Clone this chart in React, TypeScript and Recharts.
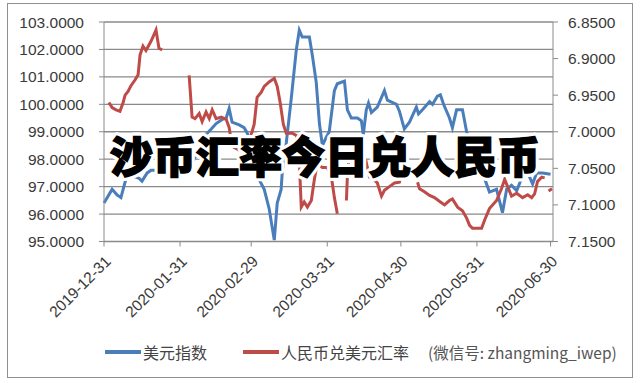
import { LineChart, Line, XAxis, YAxis, CartesianGrid } from "recharts";

// x positions are days counted from 2019-12-31
const tickDays = [0, 31, 60, 91, 121, 152, 182];
const tickLabels = ["2019-12-31", "2020-01-31", "2020-02-29", "2020-03-31", "2020-04-30", "2020-05-31", "2020-06-30"];
const leftTicks = [95, 96, 97, 98, 99, 100, 101, 102, 103];
const rightTicks = [6.85, 6.9, 6.95, 7.0, 7.05, 7.1, 7.15];

// 美元指数
const usdDays = [
  0, 3.3, 5.3, 6.9, 9, 11.4, 14.3, 15.5, 17.6, 19.2, 21.6, 23.7, 25.3, 27.3, 29.4, 31.4, 34.7, 37.6, 40, 41.6,
  43.7, 45.7, 48.2, 49.8, 51, 52.2, 55.1, 57.1, 58.4, 60.4, 62.4, 65.3, 67.3, 69.4, 70.6, 72.2, 72.7, 74.3, 76.3, 78.4,
  79.6, 80.8, 83.7, 84.9, 86.5, 87.8, 89, 90.6, 91.8, 93.9, 95.1, 98, 99.2, 100.8, 103.3, 104.9, 105.7, 106.9, 107.8, 109,
  111.4, 114.3, 115.5, 119.2, 120.4, 122.4, 124.5, 127.3, 128.2, 129.8, 132.7, 133.9, 135.9, 137.1, 138.4, 140.8, 142, 143.7, 146.1, 147.8,
  149, 152.2, 155.1, 157.1, 160, 162.4, 164.1, 166.1, 168.2, 170.6, 172.2, 174.7, 176.3, 178.8, 182,
];
const usdValues = [
  96.4, 96.9, 96.7, 96.6, 97.3, 97.4, 97.3, 97.2, 97.5, 97.6, 97.6, 97.8, 97.85, 97.9, 98.0, 97.4, 97.65, 98.15, 98.6, 98.9,
  99.1, 99.3, 99.45, 99.5, 99.85, 99.35, 99.25, 99.15, 98.95, 98.3, 97.4, 96.9, 96.2, 95.05, 96.4, 96.9, 97.6, 98.6, 100.2, 102.0,
  102.7, 102.45, 102.45, 101.8, 100.8, 99.3, 98.5, 98.8, 99.0, 100.5, 100.75, 100.85, 99.8, 99.5, 99.5, 99.4, 98.9, 99.8, 100.05, 99.7,
  99.9, 100.5, 100.15, 100.0, 99.75, 99.1, 99.35, 99.9, 99.65, 99.8, 100.1, 100.0, 100.3, 100.35, 100.0, 99.5, 99.15, 99.8, 99.8, 99.0,
  98.7, 97.9, 97.3, 96.8, 96.9, 96.05, 96.9, 97.05, 96.85, 97.4, 97.6, 97.1, 97.5, 97.5, 97.45,
];

// 人民币兑美元汇率 (null = no data, the line breaks)
const cnyDays = [
  2, 3.3, 4.9, 6.5, 7.8, 8.6, 9.8, 11, 12.7, 13.9, 14.7, 15.9, 17.1, 19.2, 21.2, 22.4, 23.7, 29,
  34.7, 35.9, 37.1, 38.8, 40, 41.6, 42.9, 44.1, 45.7, 47.8, 49.8, 51, 52.2, 55.1, 57.1, 59.6, 61.2, 62.4, 64.1, 65.3,
  67.3, 69.4, 70.6, 71.8, 73.1, 74.3, 76.7, 78.4, 79.6, 80.4, 81.6, 82.9, 84.5, 85.7, 86.9, 89, 91, 92.7, 93.9, 95.1, 97,
  98.8, 99.2, 100, 101.2, 102.9, 104.1, 105.3, 106.9, 108.2, 109.4, 111.4, 113.1, 114.3, 116.3, 118.4, 120.4, 121.2, 122, 125,
  127.8, 128.6, 130.6, 132.7, 134.7, 136.7, 138.8, 140.8, 142, 144.1, 146.1, 147.8, 149, 150.2, 153.9, 155.1, 157.1, 160, 162,
  163.3, 164.5, 166.1, 168.2, 170.6, 172.7, 174.3, 175.5, 176.7, 178.4, 179.6, 180.4, 181.2, 182.6,
];
const cnyRates = [
  6.96, 6.967, 6.97, 6.972, 6.96, 6.95, 6.945, 6.937, 6.929, 6.922, 6.895, 6.883, 6.889, 6.876, 6.861, 6.886, 6.888, null,
  6.923, 6.98, 6.982, 6.975, 6.986, 6.973, 6.982, 6.97, 6.982, 6.98, 6.983, 6.994, 7.02, 7.025, 7.023, 7.008, 6.99, 6.953, 6.946, 6.938,
  6.932, 6.927, 6.938, 6.96, 6.99, 7.002, 7.002, 7.005, 7.04, 7.103, 7.096, 7.103, 7.094, 7.066, 7.043, 7.049, 7.049, 7.062, 7.09, 7.112, null,
  7.094, 7.06, 7.03, 7.039, 7.03, 7.03, 7.053, 7.042, 7.062, 7.064, 7.07, 7.088, 7.08, 7.075, 7.07, 7.069, 7.058, 7.05, null,
  7.069, 7.078, 7.082, 7.087, 7.09, 7.095, 7.1, 7.094, 7.092, 7.103, 7.108, 7.118, 7.128, 7.132, 7.132, 7.121, 7.105, 7.094, 7.078,
  7.065, 7.075, 7.088, 7.084, 7.09, 7.086, 7.09, 7.085, 7.068, 7.062, 7.063, null, 7.081, 7.078,
];

const usdData = usdDays.map((d, i) => ({ day: d, usd: usdValues[i] }));
const cnyData = cnyDays.map((d, i) => ({ day: d, cny: cnyRates[i] }));

const BLUE = "#4a7ebb";
const RED = "#be4b48";
const GRID = "#8a8a8a";
const tickFont = { fill: "#3a3a3a", fontSize: 15.5, fontFamily: "Liberation Sans, Arial, sans-serif" };
const TITLE = "沙币汇率今日兑人民币";

export default function App() {
  return (
    <div style={{ position: "absolute", left: 0, top: 0, width: 640, height: 383, background: "#fff", overflow: "hidden" }}>
      <div
        style={{
          position: "absolute", left: 7, top: 3, width: 624, height: 373,
          border: "1.5px solid #8f8f8f",
        }}
      />
      <div style={{ position: "absolute", left: 0, top: 0 }}>
        <LineChart width={640} height={383} margin={{ top: 22, right: 0, bottom: 0, left: 0 }}>
          <CartesianGrid yAxisId="left" vertical={false} stroke={GRID} strokeWidth={1.3} />
          <XAxis
            dataKey="day"
            type="number"
            domain={[0, 183]}
            ticks={tickDays}
            tickFormatter={(v) => tickLabels[tickDays.indexOf(v)] ?? ""}
            height={141.5}
            interval={0}
            stroke={GRID}
            tickSize={5}
            tickMargin={8}
            tick={{ ...tickFont, angle: -45, textAnchor: "end" }}
          />
          <YAxis
            yAxisId="left"
            domain={[95, 103]}
            ticks={leftTicks}
            tickFormatter={(v) => Number(v).toFixed(4)}
            width={104}
            stroke={GRID}
            tickSize={5}
            tickMargin={15}
            tick={tickFont}
            interval={0}
          />
          <YAxis
            yAxisId="right"
            orientation="right"
            reversed
            domain={[6.85, 7.15]}
            ticks={rightTicks}
            tickFormatter={(v) => Number(v).toFixed(4)}
            width={87}
            stroke={GRID}
            tickSize={5}
            tickMargin={10}
            tick={tickFont}
            interval={0}
          />
          <Line
            yAxisId="left"
            data={usdData}
            dataKey="usd"
            stroke={BLUE}
            strokeWidth={3}
            dot={false}
            isAnimationActive={false}
          />
          <Line
            yAxisId="right"
            data={cnyData}
            dataKey="cny"
            stroke={RED}
            strokeWidth={3}
            dot={false}
            connectNulls={false}
            isAnimationActive={false}
          />
        </LineChart>
      </div>

      <svg width={640} height={383} style={{ position: "absolute", left: 0, top: 0, pointerEvents: "none" }}>
        <text
          x={110}
          y={173}
          fontSize={43}
          fontWeight={900}
          fontFamily="Noto Sans CJK SC, sans-serif"
          fill="#fff"
          stroke="#fff"
          strokeWidth={8}
          strokeLinejoin="round"
        >
          {TITLE}
        </text>
        <text
          x={110}
          y={173}
          fontSize={43}
          fontWeight={900}
          fontFamily="Noto Sans CJK SC, sans-serif"
          fill="#000"
          stroke="#000"
          strokeWidth={1.6}
        >
          {TITLE}
        </text>
      </svg>

      <div
        style={{
          position: "absolute", left: 0, top: 340, width: 640, height: 24,
          fontFamily: "Noto Sans CJK SC, sans-serif", fontSize: 16, color: "#444",
        }}
      >
        <div style={{ position: "absolute", left: 105, top: 10, width: 36, height: 4, background: BLUE }} />
        <div style={{ position: "absolute", left: 143, top: 0, lineHeight: "24px" }}>美元指数</div>
        <div style={{ position: "absolute", left: 243, top: 10, width: 36, height: 4, background: RED }} />
        <div style={{ position: "absolute", left: 281, top: 0, lineHeight: "24px" }}>人民币兑美元汇率</div>
        <div style={{ position: "absolute", left: 428, top: 0, lineHeight: "24px", color: "#555", fontSize: 15.5 }}>
          (微信号: zhangming_iwep)
        </div>
      </div>
    </div>
  );
}
